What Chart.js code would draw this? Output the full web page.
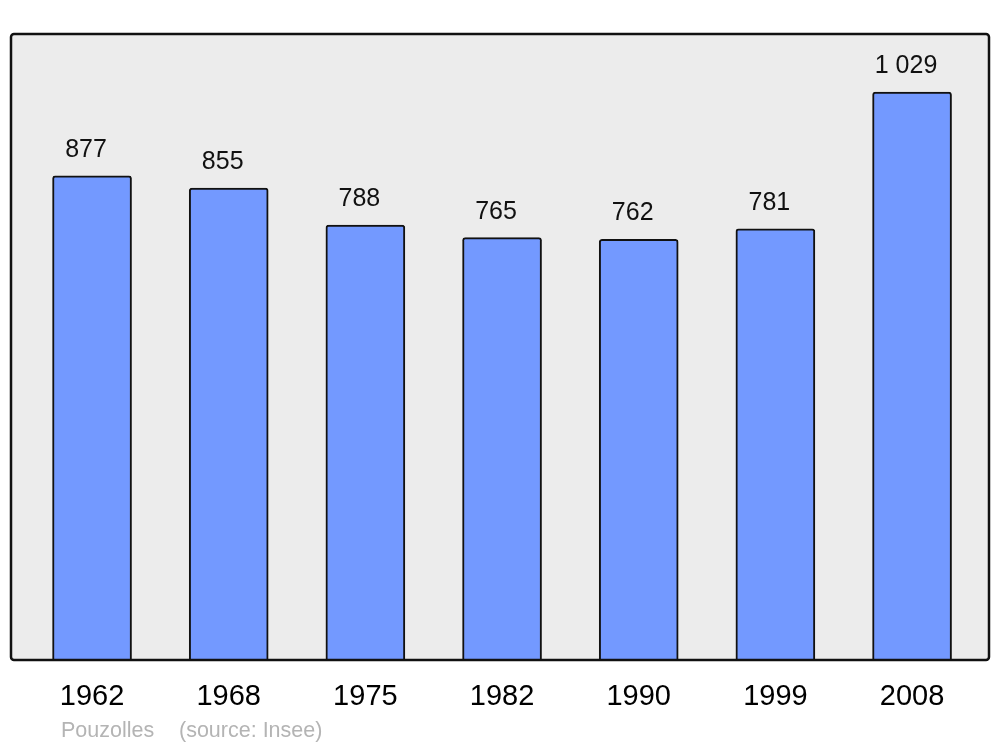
<!DOCTYPE html>
<html>
<head>
<meta charset="utf-8">
<script src="https://cdn.jsdelivr.net/npm/chart.js@4/dist/chart.umd.min.js"></script>
<style>
  html, body { margin: 0; padding: 0; background: #fff; }
  #wrap { width: 1000px; height: 747px; position: relative; }
</style>
</head>
<body>
<div id="wrap"><canvas id="chart"></canvas></div>
<script>
// ── Data ──────────────────────────────────────────────
const years = ['1962', '1968', '1975', '1982', '1990', '1999', '2008'];
const population = [877, 855, 788, 765, 762, 781, 1029];
const town = 'Pouzolles';
const source = '(source: Insee)';

const FONT = '"Liberation Sans", Arial, sans-serif';

function fmt(n) {
  return String(n).replace(/\B(?=(\d{3})+(?!\d))/g, ' ');
}

function roundRect(ctx, x, y, w, h, r) {
  ctx.beginPath();
  ctx.moveTo(x + r, y);
  ctx.lineTo(x + w - r, y);
  ctx.arcTo(x + w, y, x + w, y + r, r);
  ctx.lineTo(x + w, y + h - r);
  ctx.arcTo(x + w, y + h, x + w - r, y + h, r);
  ctx.lineTo(x + r, y + h);
  ctx.arcTo(x, y + h, x, y + h - r, r);
  ctx.lineTo(x, y + r);
  ctx.arcTo(x, y, x + r, y, r);
  ctx.closePath();
}

// grey frame behind bars, its border on top
const framePlugin = {
  id: 'frame',
  beforeDatasetsDraw(chart) {
    const { ctx, chartArea: a } = chart;
    ctx.save();
    roundRect(ctx, a.left, a.top, a.right - a.left, a.bottom - a.top, 3);
    ctx.fillStyle = '#ececec';
    ctx.fill();
    ctx.restore();
  },
  afterDatasetsDraw(chart) {
    const { ctx, chartArea: a } = chart;
    ctx.save();
    roundRect(ctx, a.left, a.top, a.right - a.left, a.bottom - a.top, 3);
    ctx.lineWidth = 2.5;
    ctx.strokeStyle = '#111';
    ctx.stroke();

    // value labels (sit a little left of the bar centre)
    const meta = chart.getDatasetMeta(0);
    ctx.font = '25px ' + FONT;
    ctx.fillStyle = '#111';
    ctx.textAlign = 'center';
    ctx.textBaseline = 'alphabetic';
    meta.data.forEach((bar, i) => {
      ctx.fillText(fmt(population[i]), bar.x - 6, bar.y - 19);
    });
    ctx.restore();
  },
  afterDraw(chart) {
    const { ctx } = chart;
    ctx.save();
    ctx.font = '21.5px ' + FONT;
    ctx.fillStyle = '#b4b4b4';
    ctx.textBaseline = 'alphabetic';
    ctx.textAlign = 'left';
    ctx.fillText(town, 61, 737);
    ctx.fillText(source, 179, 737);
    ctx.restore();
  }
};

new Chart(document.getElementById('chart'), {
  type: 'bar',
  data: {
    datasets: [{
      data: population.map((v, i) => ({ x: i, y: v })),
      backgroundColor: '#7399ff',
      borderColor: '#111',
      borderWidth: 2,
      borderSkipped: 'bottom',
      borderRadius: { topLeft: 3, topRight: 3 },
      barThickness: 79,
    }],
  },
  options: {
    responsive: true,
    maintainAspectRatio: false,
    animation: false,
    events: [],
    layout: { padding: { left: 11, right: 11, top: 34, bottom: 0 } },
    plugins: { legend: { display: false }, tooltip: { enabled: false } },
    scales: {
      x: {
        type: 'linear',
        offset: false,
        min: -0.593,
        max: 6.563,
        grid: { display: false, offset: false },
        border: { display: false },
        afterBuildTicks: (s) => { s.ticks = years.map((_, i) => ({ value: i })); },
        afterFit: (s) => { s.height = 87; },
        ticks: {
          autoSkip: false,
          maxRotation: 0,
          padding: 12,
          color: '#000',
          font: { family: FONT, size: 29 },
          callback: (v) => years[v],
        },
      },
      y: {
        display: false,
        min: 0,
        max: 1134,
      },
    },
  },
  plugins: [framePlugin],
});
</script>
</body>
</html>
